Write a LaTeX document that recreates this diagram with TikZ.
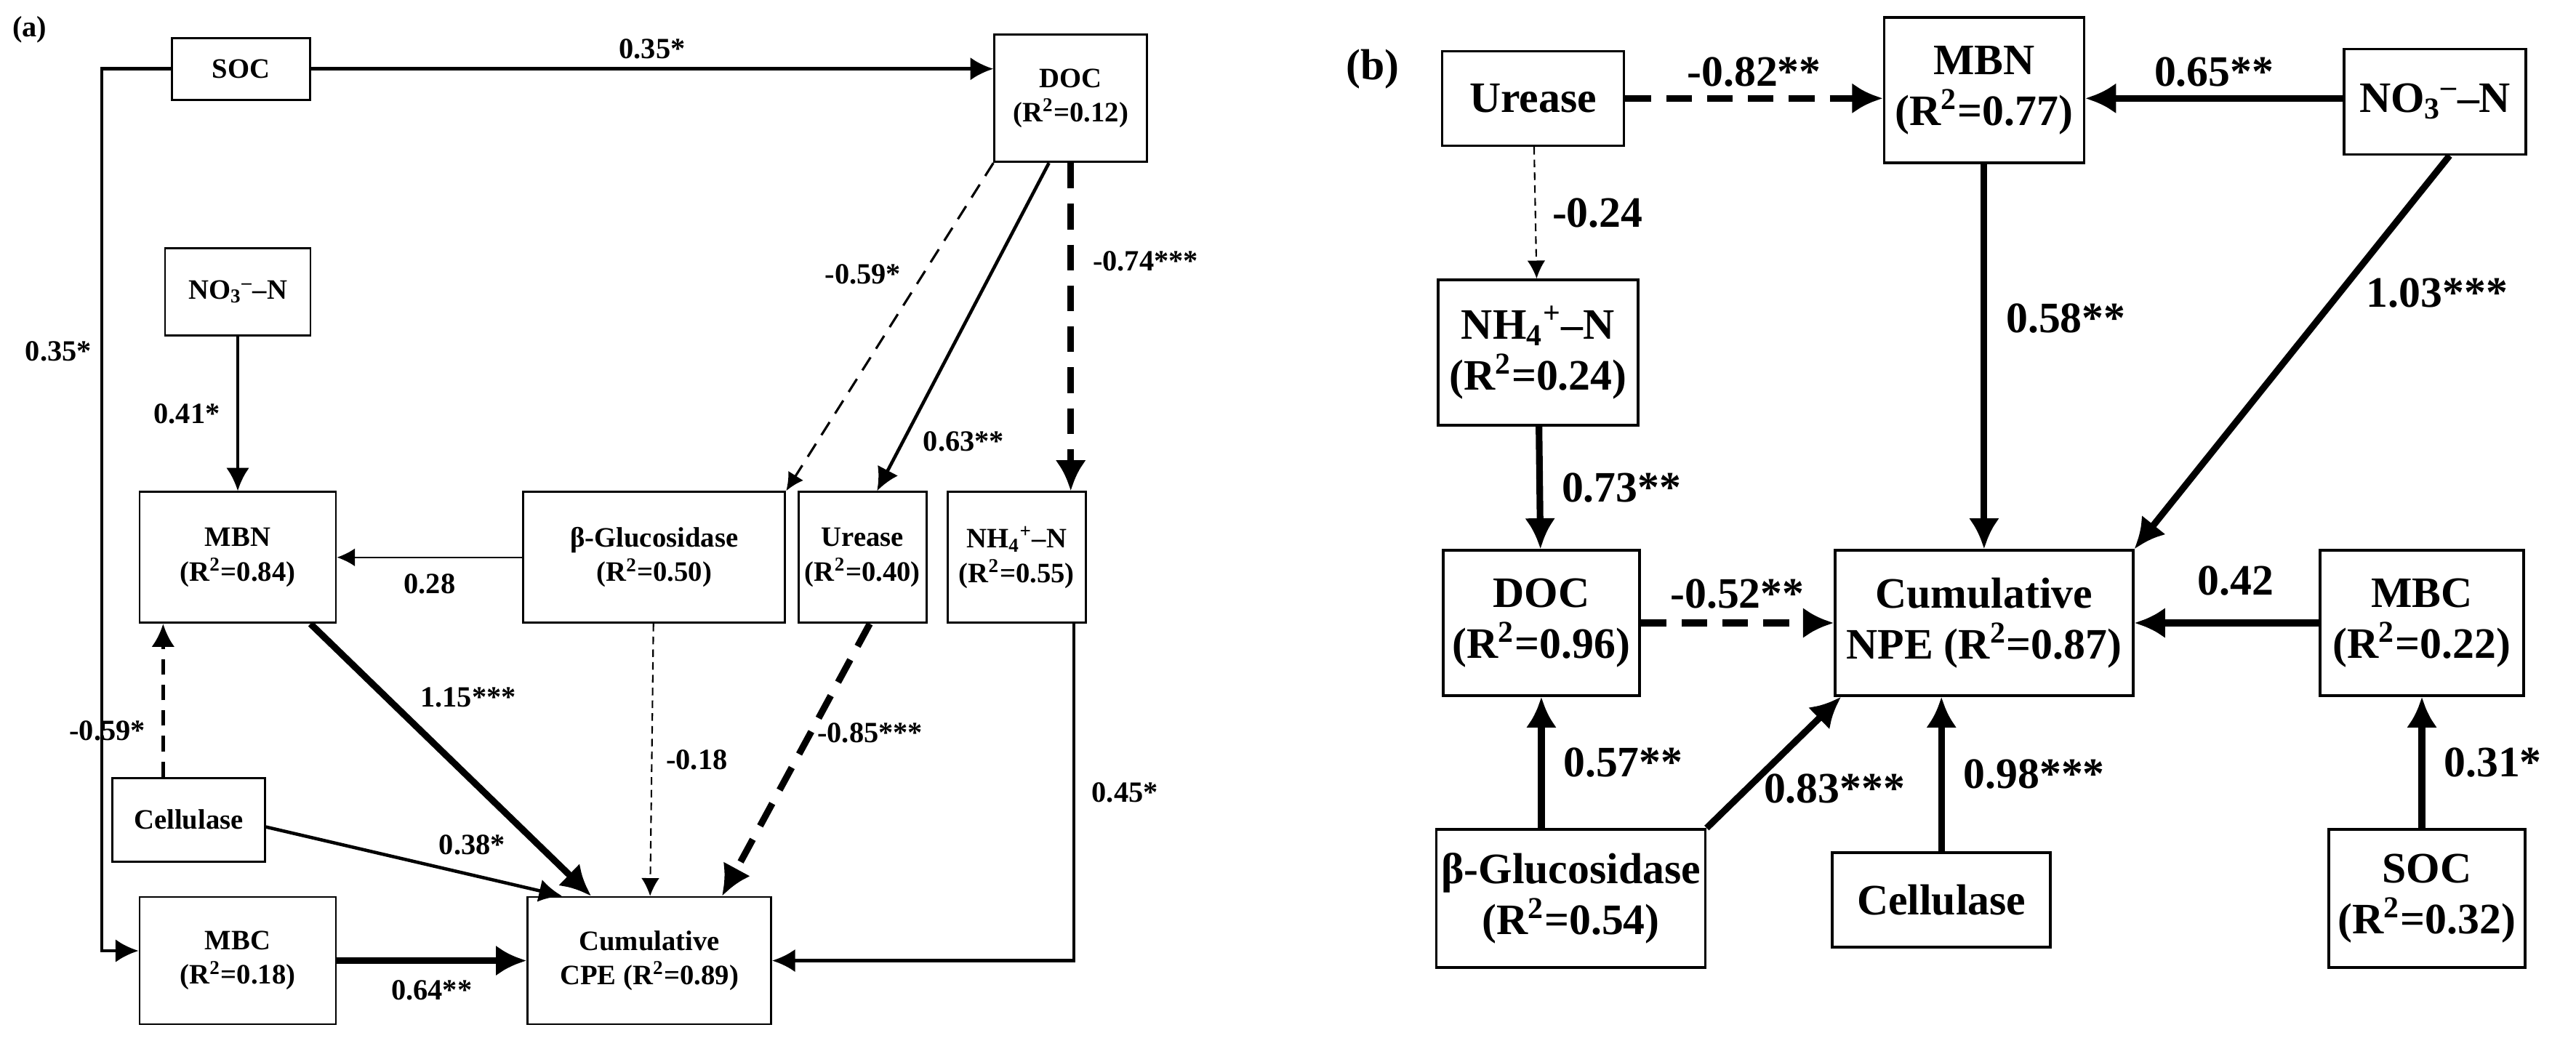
\documentclass[tikz,border=0pt]{standalone}
\usepackage{fontspec}
\setmainfont{Liberation Serif}
\usetikzlibrary{arrows.meta}
\newcommand{\rsq}[1]{(R\textsuperscript{2}=#1)}
\begin{document}
\begin{tikzpicture}[x=0.02255cm,y=-0.02255cm,
  ba/.style={draw,line width=0.8pt,font=\fontsize{11}{13.5}\selectfont\bfseries,align=center,inner sep=0pt,minimum height=#1},
  ba/.default=0.9cm,
  bb/.style={draw,line width=1pt,font=\fontsize{17}{20}\selectfont\bfseries,align=center,inner sep=0pt},
  la/.style={font=\fontsize{11.5}{14}\selectfont\bfseries},
  lb/.style={font=\fontsize{17}{20}\selectfont\bfseries},
  ar/.style={-{Latex[length=#1,width=#1]}},
  ar/.default=9pt,
  thn/.style={line width=0.6pt,ar=7pt},
  med/.style={line width=1.3pt,ar=9pt},
  thk/.style={line width=2.6pt,ar=12pt},
  dsh/.style={dash pattern=on 6pt off 4pt},
  dshb/.style={dash pattern=on 10pt off 6pt}]
\useasboundingbox (0,0) rectangle (1571,633);
% ---------- panel a ----------
\node[la] (pa) at (18,18) {(a)};
\node[ba=0.85cm,minimum width=1.9cm] (asoc) at (147,42) {SOC};
\node[ba=1.75cm,minimum width=2.1cm] (adoc) at (653,60) {DOC\\\rsq{0.12}};
\node[ba=1.2cm,minimum width=2.0cm] (ano3) at (145,178) {NO\textsubscript{3}\textsuperscript{--}--N};
\node[ba=1.8cm,minimum width=2.7cm] (ambn) at (145,340) {MBN\\\rsq{0.84}};
\node[ba=1.8cm,minimum width=3.6cm] (abg) at (399,340) {β-Glucosidase\\\rsq{0.50}};
\node[ba=1.8cm,minimum width=1.76cm] (aure) at (526,340) {Urease\\\rsq{0.40}};
\node[ba=1.8cm,minimum width=1.9cm] (anh4) at (620,340) {NH\textsubscript{4}\textsuperscript{+}--N\\\rsq{0.55}};
\node[ba=1.15cm,minimum width=2.1cm] (acel) at (115,500) {Cellulase};
\node[ba=1.75cm,minimum width=2.7cm] (ambc) at (145,586) {MBC\\\rsq{0.18}};
\node[ba=1.75cm,minimum width=3.35cm] (acpe) at (396,586) {Cumulative\\CPE \rsq{0.89}};
\coordinate (ac1) at (62,42); \coordinate (ac2) at (62,580);
\draw[med] (asoc) -- node[la,above]{0.35*} (asoc-|adoc.west);
\draw[med] (asoc.west) -- (ac1) -- node[la,pos=0.32,left]{0.35*} (ac2) -- (ac2-|ambc.west);
\draw[thn,dsh,line width=0.9pt] (adoc.south west) -- node[la,pos=0.4,above left]{-0.59*} (abg.north east);
\draw[med] ([xshift=-0.3cm]adoc.south) -- node[la,pos=0.85,right=4pt]{0.63**} ([xshift=0.2cm]aure.north);
\draw[thk,dshb] (adoc.south) -- node[la,pos=0.3,right=4pt]{-0.74***} (adoc.south|-anh4.north);
\draw[med] (ano3) -- node[la,left=3pt]{0.41*} (ambn);
\draw[thn] (abg.west|-ambn.east) -- node[la,below=3pt]{0.28} (ambn.east);
\draw[med,dsh] ([xshift=-0.35cm]acel.north) -- node[la,left=3pt,pos=0.3]{-0.59*} ([xshift=-0.35cm]acel.north|-ambn.south);
\draw[thk] ([xshift=1.0cm]ambn.south) -- node[la,pos=0.35,above right]{1.15***} ([xshift=-0.8cm]acpe.north);
\draw[thn,dash pattern=on 3pt off 2pt] (abg) -- node[la,right=2pt]{-0.18} (acpe);
\draw[thk,dshb] ([xshift=0.1cm]aure.south) -- node[la,pos=0.4,right=-2pt]{-0.85***} ([xshift=1.0cm]acpe.north);
\draw[med] ([yshift=-0.1cm]acel.east) -- node[la,above right,pos=0.55]{0.38*} ([xshift=-1.2cm]acpe.north);
\draw[thk] (ambc) -- node[la,below=3pt]{0.64**} (acpe);
\coordinate (ac3) at (655,586);
\draw[med] (anh4.south-|ac3) -- node[la,right=3pt,pos=0.5]{0.45*} (ac3) -- (acpe.east);
% ---------- panel b ----------
\node[lb] (pb) at (837,42) {(b)};
\node[bb,minimum width=2.5cm,minimum height=1.3cm] (bure) at (935,60) {Urease};
\node[bb,minimum width=2.75cm,minimum height=2.0cm] (bmbn) at (1210,55) {MBN\\\rsq{0.77}};
\node[bb,minimum width=2.5cm,minimum height=1.45cm] (bno3) at (1485,62) {NO\textsubscript{3}\textsuperscript{--}--N};
\node[bb,minimum width=2.75cm,minimum height=2.0cm] (bnh4) at (938,215) {NH\textsubscript{4}\textsuperscript{+}--N\\\rsq{0.24}};
\node[bb,minimum width=2.7cm,minimum height=2.0cm] (bdoc) at (940,380) {DOC\\\rsq{0.96}};
\node[bb,minimum width=4.1cm,minimum height=2.0cm] (bnpe) at (1210,380) {Cumulative\\NPE \rsq{0.87}};
\node[bb,minimum width=2.8cm,minimum height=2.0cm] (bmbc) at (1477,380) {MBC\\\rsq{0.22}};
\node[bb,minimum width=3.7cm,minimum height=1.9cm] (bbg) at (958,548) {β-Glucosidase\\\rsq{0.54}};
\node[bb,minimum width=3.0cm,minimum height=1.3cm] (bcel) at (1184,549) {Cellulase};
\node[bb,minimum width=2.7cm,minimum height=1.9cm] (bsoc) at (1480,548) {SOC\\\rsq{0.32}};
\draw[thk,dshb] (bure.east|-bure) -- node[lb,above]{-0.82**} (bmbn.west|-bure);
\draw[thk] (bno3.west|-bure) -- node[lb,above]{0.65**} (bmbn.east|-bure);
\draw[thn,dash pattern=on 3pt off 2pt] (bure) -- node[lb,right=3pt]{-0.24} (bnh4);
\draw[thk] (bmbn) -- node[lb,right=4pt,pos=0.4]{0.58**} (bnpe);
\draw[thk] ([xshift=0.2cm]bno3.south) -- node[lb,pos=0.35,right=6pt]{1.03***} (bnpe.north east);
\draw[thk] (bnh4) -- node[lb,right=4pt]{0.73**} (bdoc);
\draw[thk,dshb] (bdoc) -- node[lb,above=1pt]{-0.52**} (bnpe);
\draw[thk] (bmbc) -- node[lb,above=6pt,pos=0.45]{0.42} (bnpe);
\draw[thk] (bbg.north-|bdoc) -- node[lb,right=4pt]{0.57**} (bdoc);
\draw[thk] (bbg.north east) -- node[lb,right=2pt,pos=0.3]{0.83***} ([xshift=0.1cm]bnpe.south west);
\draw[thk] (bcel) -- node[lb,right=4pt]{0.98***} (bcel|-bnpe.south);
\draw[thk] (bsoc.north-|bmbc) -- node[lb,right=4pt]{0.31*} (bmbc);
\end{tikzpicture}
\end{document}
